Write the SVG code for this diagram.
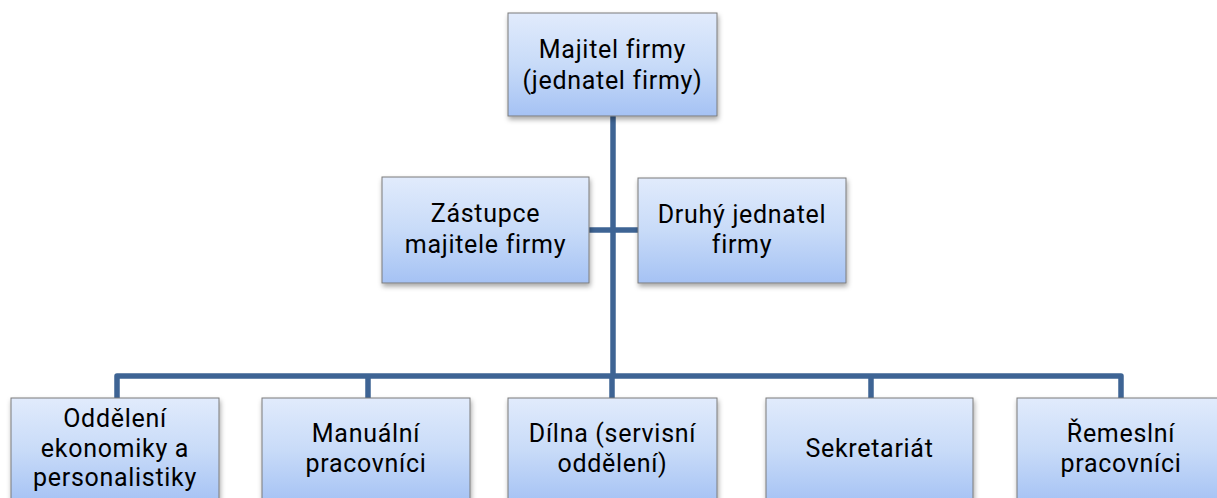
<svg xmlns="http://www.w3.org/2000/svg" width="1217" height="498" viewBox="0 0 1217 498">
<style>
.box{fill:url(#g);stroke:#7b7b7b;stroke-width:1;filter:url(#sh)}
.t{font-family:Roboto,"Open Sans","Liberation Sans",sans-serif;font-size:25px;letter-spacing:0.7px;fill:#000;text-anchor:middle}
.c{fill:none;stroke:#3e6494;stroke-width:5.5;stroke-linejoin:round;stroke-linecap:butt}
</style>
<defs>
<linearGradient id="g" x1="0" y1="0" x2="0" y2="1">
<stop offset="0" stop-color="#e1ebfc"/>
<stop offset="0.5" stop-color="#c8dbf8"/>
<stop offset="1" stop-color="#a5c2f4"/>
</linearGradient>
<filter id="sh" x="-10%" y="-10%" width="120%" height="130%">
<feDropShadow dx="1" dy="3" stdDeviation="2.5" flood-color="#000" flood-opacity="0.35"/>
</filter>
</defs>
<g id="connectors">
<path class="c" d="M613 116 V376"/>
<path class="c" d="M589 230 H638"/>
<path class="c" d="M117 398 V376 H1121 V398"/>
<path class="c" d="M368 376 V398 M612 376 V398 M871 376 V398"/>
</g>
<g id="n-majitel">
<rect class="box" x="508" y="13" width="209" height="103"/>
<text class="t" x="612.5" y="58">Majitel firmy<tspan x="612.5" dy="31">(jednatel firmy)</tspan></text>
</g>
<g id="n-zastupce">
<rect class="box" x="382" y="177" width="207" height="106"/>
<text class="t" x="485.5" y="222">Zástupce<tspan x="485.5" dy="31">majitele firmy</tspan></text>
</g>
<g id="n-druhy">
<rect class="box" x="638" y="178" width="208" height="105"/>
<text class="t" x="742" y="223">Druhý jednatel<tspan x="742" dy="30">firmy</tspan></text>
</g>
<g id="n-oddeleni">
<rect class="box" x="11" y="398" width="208" height="105"/>
<text class="t" x="115" y="427">Oddělení<tspan x="115" dy="29.5">ekonomiky a</tspan><tspan x="115" dy="29.5">personalistiky</tspan></text>
</g>
<g id="n-manualni">
<rect class="box" x="262" y="398" width="208" height="105"/>
<text class="t" x="366" y="442">Manuální<tspan x="366" dy="30">pracovníci</tspan></text>
</g>
<g id="n-dilna">
<rect class="box" x="508" y="398" width="209" height="105"/>
<text class="t" x="612.5" y="442">Dílna (servisní<tspan x="612.5" dy="30">oddělení)</tspan></text>
</g>
<g id="n-sekretariat">
<rect class="box" x="766" y="398" width="207" height="105"/>
<text class="t" x="869.5" y="457">Sekretariát</text>
</g>
<g id="n-remeslni">
<rect class="box" x="1017" y="398" width="208" height="105"/>
<text class="t" x="1121" y="442">Řemeslní<tspan x="1121" dy="30">pracovníci</tspan></text>
</g>
</svg>
